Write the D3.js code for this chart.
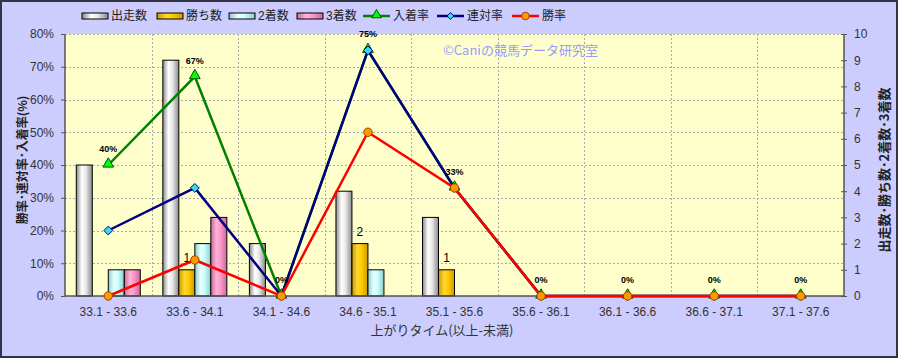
<!DOCTYPE html>
<html>
<head>
<meta charset="utf-8">
<script src="https://cdn.jsdelivr.net/npm/d3@7"></script>
<style>
  body { margin: 0; background: #fff; }
  svg { display: block; font-family: "Liberation Sans", "Noto Sans CJK JP", sans-serif; }
</style>
</head>
<body>
<div id="chart"></div>
<script>
const WIDTH = 898;
const HEIGHT = 358;

// data
const categories = ["33.1 - 33.6", "33.6 - 34.1", "34.1 - 34.6", "34.6 - 35.1", "35.1 - 35.6",
                    "35.6 - 36.1", "36.1 - 36.6", "36.6 - 37.1", "37.1 - 37.6"];
const starts   = [5, 9, 2, 4, 3, 0, 0, 0, 0];   // 出走数
const wins     = [0, 1, 0, 2, 1, 0, 0, 0, 0];   // 勝ち数
const seconds  = [1, 2, 0, 1, 0, 0, 0, 0, 0];   // 2着数
const thirds   = [1, 3, 0, 0, 0, 0, 0, 0, 0];   // 3着数
const placeRate = [0.40, 0.67, 0, 0.75, 0.33, 0, 0, 0, 0];  // 入着率
const quinRate  = [0.20, 0.33, 0, 0.75, 0.33, 0, 0, 0, 0];  // 連対率
const winRate   = [0, 0.11, 0, 0.50, 0.33, 0, 0, 0, 0];     // 勝率
const leftTicks = [0, 0.1, 0.2, 0.3, 0.4, 0.5, 0.6, 0.7, 0.8];
const rightTicks = [0, 1, 2, 3, 4, 5, 6, 7, 8, 9, 10];

const margin = {left: 65, right: 54, top: 34, bottom: 62};

const svg = d3.select("#chart").append("svg")
  .attr("width", WIDTH)
  .attr("height", HEIGHT);

const defs = svg.append("defs");
function cylinder(id, edge, mid, light) {
  const g = defs.append("linearGradient").attr("id", id)
    .attr("x1", "0%").attr("x2", "100%").attr("y1", "0%").attr("y2", "0%");
  g.append("stop").attr("offset", "0%").attr("stop-color", edge);
  g.append("stop").attr("offset", "35%").attr("stop-color", light);
  g.append("stop").attr("offset", "60%").attr("stop-color", mid);
  g.append("stop").attr("offset", "100%").attr("stop-color", edge);
}
cylinder("gStart", "#8a8a8a", "#e8e8e8", "#ffffff");
cylinder("gWin", "#c99a00", "#ffcc00", "#ffd633");
cylinder("gSecond", "#8fc9c9", "#ccffff", "#e6ffff");
cylinder("gThird", "#c86a98", "#ff99cc", "#ffb3d9");

// background + frame
svg.append("rect")
  .attr("x", 1).attr("y", 1)
  .attr("width", WIDTH - 2).attr("height", HEIGHT - 2)
  .attr("fill", "#ccccff")
  .attr("stroke", "#333344").attr("stroke-width", 2);

const x = d3.scaleBand()
  .domain(categories)
  .range([margin.left, WIDTH - margin.right]);

const yL = d3.scaleLinear().domain([0, 0.8]).range([HEIGHT - margin.bottom, margin.top]);
const yR = d3.scaleLinear().domain([0, 10]).range([HEIGHT - margin.bottom, margin.top]);

const plotW = WIDTH - margin.left - margin.right;
const plotH = HEIGHT - margin.top - margin.bottom;

svg.append("rect")
  .attr("x", margin.left).attr("y", margin.top)
  .attr("width", plotW).attr("height", plotH)
  .attr("fill", "#ffffcc");

// grid lines
const grid = svg.append("g").attr("stroke", "#aaaaaa").attr("stroke-dasharray", "2,2").attr("stroke-width", 1);
grid.selectAll(".hg")
  .data(leftTicks.slice(1))
  .enter().append("line")
  .attr("x1", margin.left).attr("x2", WIDTH - margin.right)
  .attr("y1", d => Math.round(yL(d)) + 0.5).attr("y2", d => Math.round(yL(d)) + 0.5);
grid.selectAll(".vg")
  .data(categories.slice(1))
  .enter().append("line")
  .attr("x1", d => Math.round(x(d)) + 0.5).attr("x2", d => Math.round(x(d)) + 0.5)
  .attr("y1", margin.top).attr("y2", HEIGHT - margin.bottom);

// bars
const barKeys = ["start", "win", "second", "third"];
const barFills = {start: "url(#gStart)", win: "url(#gWin)", second: "url(#gSecond)", third: "url(#gThird)"};
const barData = {start: starts, win: wins, second: seconds, third: thirds};
const groupW = 64;
const xb = d3.scaleBand()
  .domain(barKeys)
  .range([(x.bandwidth() - groupW) / 2, (x.bandwidth() + groupW) / 2]);

const bars = svg.append("g");
barKeys.forEach(k => {
  bars.selectAll(".b-" + k)
    .data(categories.map((c, i) => ({c: c, v: barData[k][i]})).filter(d => d.v > 0))
    .enter().append("rect")
    .attr("x", d => x(d.c) + xb(k))
    .attr("y", d => yR(d.v))
    .attr("width", xb.bandwidth())
    .attr("height", d => yR(0) - yR(d.v))
    .attr("fill", barFills[k])
    .attr("stroke", "#000")
    .attr("stroke-width", 1);
});

// count labels on 勝ち数
svg.append("g").selectAll("text")
  .data(categories.map((c, i) => ({c: c, v: wins[i]})).filter(d => d.v > 0))
  .enter().append("text")
  .attr("x", d => x(d.c) + xb("win") + xb.bandwidth() / 2)
  .attr("y", d => yR(d.v) - 8)
  .attr("text-anchor", "middle")
  .attr("font-size", 12)
  .attr("fill", "#000")
  .text(d => d.v);

// axes lines
const axisG = svg.append("g").attr("stroke", "#555").attr("stroke-width", 1.5);
axisG.append("line").attr("x1", margin.left).attr("x2", margin.left).attr("y1", margin.top).attr("y2", yL(0));
axisG.append("line").attr("x1", WIDTH - margin.right).attr("x2", WIDTH - margin.right).attr("y1", margin.top).attr("y2", yL(0));
axisG.append("line").attr("x1", margin.left).attr("x2", WIDTH - margin.right).attr("y1", yL(0)).attr("y2", yL(0));

// left axis
const leftAxis = svg.append("g")
  .attr("transform", `translate(${margin.left},0)`)
  .call(d3.axisLeft(yL).tickValues(leftTicks).tickFormat(d3.format(".0%")).tickSize(4).tickPadding(7));
leftAxis.select(".domain").remove();
leftAxis.selectAll("line").attr("stroke", "#555");
leftAxis.selectAll("text").attr("font-size", 12).attr("fill", "#333").attr("font-family", "Liberation Sans, sans-serif");

// right axis
const rightAxis = svg.append("g")
  .attr("transform", `translate(${WIDTH - margin.right},0)`)
  .call(d3.axisRight(yR).tickValues(rightTicks).tickSize(3).tickPadding(7));
rightAxis.select(".domain").remove();
rightAxis.selectAll("line").attr("stroke", "#555").attr("x1", -3);
rightAxis.selectAll("text").attr("font-size", 12).attr("fill", "#333").attr("font-family", "Liberation Sans, sans-serif");

// bottom axis
const bottomAxis = svg.append("g")
  .attr("transform", `translate(0,${yL(0)})`)
  .call(d3.axisBottom(x).tickSize(0).tickPadding(11));
bottomAxis.select(".domain").remove();
bottomAxis.selectAll("text").attr("font-size", 12).attr("fill", "#333").attr("font-family", "Liberation Sans, sans-serif");

// lines
const cx = c => x(c) + x.bandwidth() / 2;
const lineL = d3.line().x(d => cx(d.c)).y(d => yL(d.v));

function series(values, color) {
  const pts = categories.map((c, i) => ({c: c, v: values[i]}));
  svg.append("path")
    .datum(pts)
    .attr("fill", "none")
    .attr("stroke", color)
    .attr("stroke-width", 2.5)
    .attr("d", lineL);
  return pts;
}

const placePts = series(placeRate, "#008000");
svg.append("g").selectAll("path")
  .data(placePts).enter().append("path")
  .attr("transform", d => `translate(${cx(d.c)},${yL(d.v) - 1})`)
  .attr("d", d3.symbol().type(d3.symbolTriangle).size(50))
  .attr("fill", "#00ff00").attr("stroke", "#005500").attr("stroke-width", 1);

const quinPts = series(quinRate, "#000080");
svg.append("g").selectAll("path")
  .data(quinPts).enter().append("path")
  .attr("transform", d => `translate(${cx(d.c)},${yL(d.v)})`)
  .attr("d", d3.symbol().type(d3.symbolDiamond2).size(50))
  .attr("fill", "#33ddee").attr("stroke", "#000080").attr("stroke-width", 1);

const winPts = series(winRate, "#ff0000");
svg.append("g").selectAll("circle")
  .data(winPts).enter().append("circle")
  .attr("cx", d => cx(d.c)).attr("cy", d => yL(d.v))
  .attr("r", 4.2)
  .attr("fill", "#ff9900").attr("stroke", "#994400").attr("stroke-width", 1);

// 入着率 labels
svg.append("g").selectAll("text")
  .data(placePts).enter().append("text")
  .attr("x", d => cx(d.c))
  .attr("y", d => yL(d.v) - 13)
  .attr("text-anchor", "middle")
  .attr("font-size", 9)
  .attr("font-weight", "bold")
  .attr("fill", "#000")
  .text(d => d3.format(".0%")(d.v));

// watermark
svg.append("text")
  .attr("x", 443).attr("y", 55)
  .attr("font-size", 13)
  .attr("fill", "#9999ff")
  .attr("font-family", "Noto Sans CJK JP, sans-serif")
  .text("©Caniの競馬データ研究室");

// axis titles
svg.append("text")
  .attr("transform", "translate(27,160) rotate(-90)")
  .attr("text-anchor", "middle")
  .attr("font-size", 12)
  .attr("font-weight", "bold")
  .attr("fill", "#222")
  .attr("font-family", "Noto Sans CJK JP, sans-serif")
  .text("勝率･連対率･入着率(%)");

svg.append("text")
  .attr("transform", "translate(889,170) rotate(-90)")
  .attr("text-anchor", "middle")
  .attr("font-size", 13)
  .attr("font-weight", "bold")
  .attr("fill", "#222")
  .attr("font-family", "Noto Sans CJK JP, sans-serif")
  .text("出走数･勝ち数･2着数･3着数");

svg.append("text")
  .attr("x", 442).attr("y", 335)
  .attr("text-anchor", "middle")
  .attr("font-size", 13)
  .attr("fill", "#333")
  .attr("font-family", "Noto Sans CJK JP, sans-serif")
  .text("上がりタイム(以上-未満)");

// legend
const legendItems = [
  {name: "出走数", type: "bar", fill: "url(#gStart)", x: 82},
  {name: "勝ち数", type: "bar", fill: "url(#gWin)", x: 157},
  {name: "2着数", type: "bar", fill: "url(#gSecond)", x: 229},
  {name: "3着数", type: "bar", fill: "url(#gThird)", x: 297},
  {name: "入着率", type: "tri", stroke: "#008000", fill: "#00ff00", x: 363},
  {name: "連対率", type: "dia", stroke: "#000080", fill: "#33ddee", x: 437},
  {name: "勝率", type: "circ", stroke: "#ff0000", fill: "#ff9900", x: 512}
];
const legend = svg.append("g").attr("transform", "translate(0,16)");
legendItems.forEach(it => {
  const g = legend.append("g").attr("transform", `translate(${it.x},0)`);
  if (it.type === "bar") {
    g.append("rect").attr("x", 0).attr("y", -3).attr("width", 26).attr("height", 6)
      .attr("fill", it.fill).attr("stroke", "#000").attr("stroke-width", 1);
  } else {
    g.append("line").attr("x1", 0).attr("x2", 27).attr("y1", 0).attr("y2", 0)
      .attr("stroke", it.stroke).attr("stroke-width", 2.5);
    if (it.type === "tri") {
      g.append("path").attr("transform", "translate(13.5,-1)")
        .attr("d", d3.symbol().type(d3.symbolTriangle).size(40))
        .attr("fill", it.fill).attr("stroke", "#005500");
    } else if (it.type === "dia") {
      g.append("path").attr("transform", "translate(13.5,0)")
        .attr("d", d3.symbol().type(d3.symbolDiamond2).size(30))
        .attr("fill", it.fill).attr("stroke", it.stroke);
    } else {
      g.append("circle").attr("cx", 13.5).attr("cy", 0).attr("r", 3.8)
        .attr("fill", it.fill).attr("stroke", "#994400");
    }
  }
  g.append("text")
    .attr("x", it.type === "bar" ? 29 : 30)
    .attr("y", 0)
    .attr("dy", "0.35em")
    .attr("font-size", 12)
    .attr("fill", "#222")
    .attr("font-family", "Liberation Sans, Noto Sans CJK JP, sans-serif")
    .text(it.name);
});
</script>
</body>
</html>
